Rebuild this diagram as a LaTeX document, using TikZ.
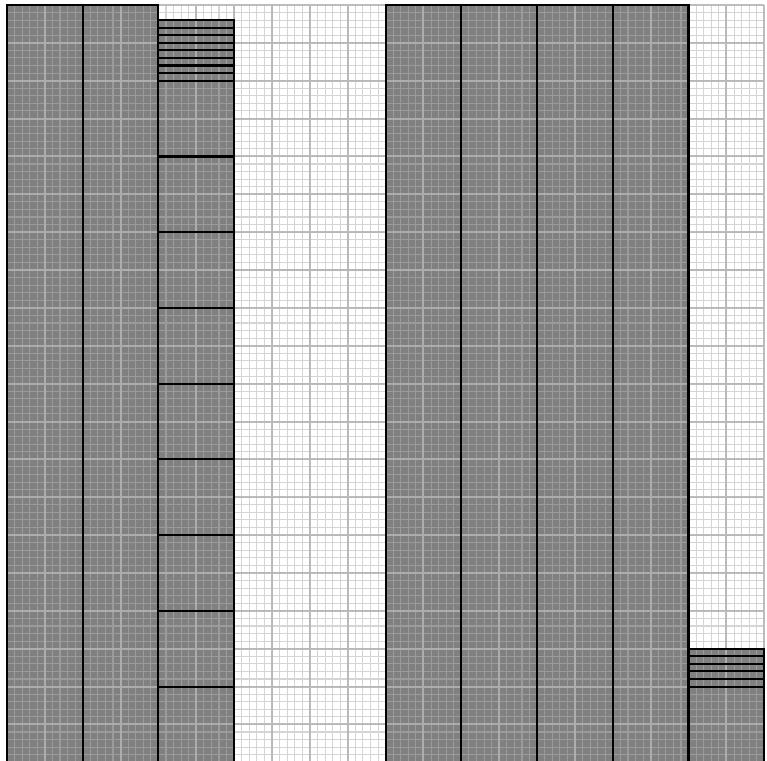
\documentclass[tikz,border=0pt]{standalone}
\definecolor{barfill}{RGB}{128,128,128}
\definecolor{gridc}{RGB}{178,178,178}
\tikzset{
  barbox/.style={fill=barfill},
  outline/.style={draw=black, line width=0.8pt},
  finegrid/.style={draw=gridc, line width=0.4pt, opacity=0.55},
  coarsegrid/.style={draw=gridc, line width=0.75pt, opacity=0.85},
}
\begin{document}
\begin{tikzpicture}
\useasboundingbox (-0.092,0.030) rectangle (10.036,10.066);
\clip (-0.092,0.030) rectangle (10.036,10.066);
% fills
\foreach \c in {0,1,5,6,7,8}
  \fill[barbox] (\c,0) rectangle (\c+1,10);
\fill[barbox] (2,0) rectangle (3,9.8);
\fill[barbox] (9,0) rectangle (10,1.5);
% grids
\draw[finegrid, step=0.1] (0,0) grid (10,10);
\draw[coarsegrid, step=0.5] (0,0) grid (10,10);
% outlines
\foreach \c in {0,1,5,6,7,8}
  \draw[outline] (\c,0) rectangle (\c+1,10);
\foreach \k in {0,...,8}
  \draw[outline] (2,\k) rectangle (3,\k+1);
\foreach \k in {0,...,7}
  \draw[outline] (2,9+0.1*\k) rectangle (3,9.1+0.1*\k);
\draw[outline] (9,0) rectangle (10,1);
\foreach \k in {0,...,4}
  \draw[outline] (9,1+0.1*\k) rectangle (10,1.1+0.1*\k);
\end{tikzpicture}
\end{document}
